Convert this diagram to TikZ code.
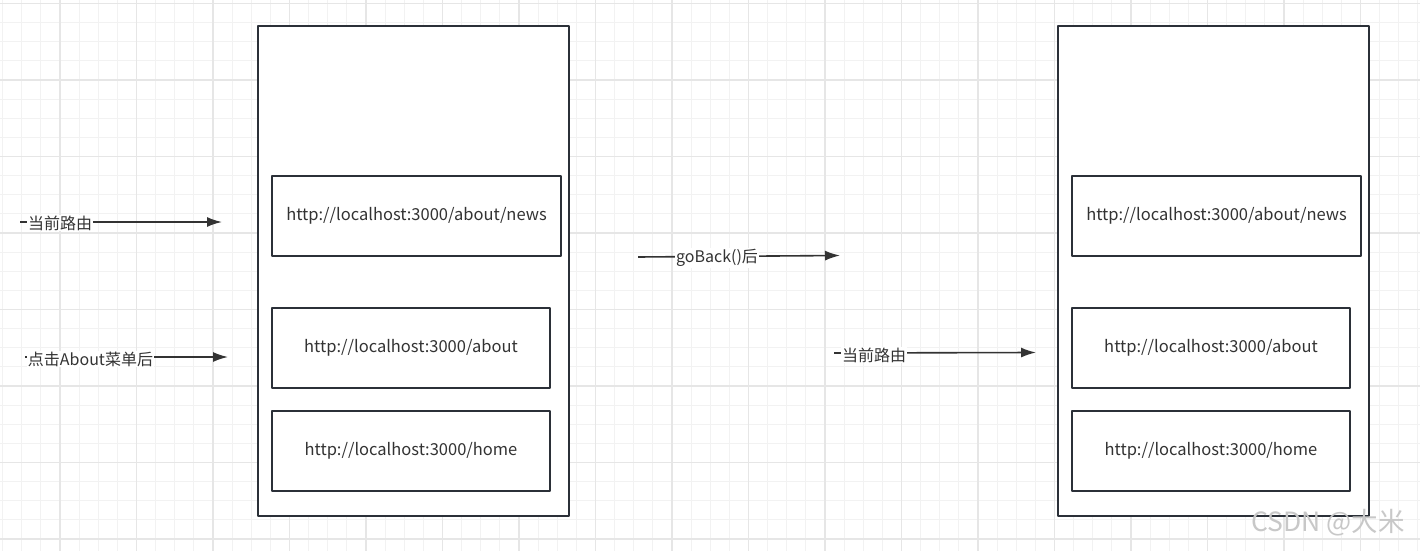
\documentclass[tikz,border=0pt]{standalone}
\usepackage{fontspec}
\setmainfont{Noto Sans CJK SC}
\usetikzlibrary{arrows.meta}
\definecolor{boxc}{HTML}{2B3038}
\definecolor{linec}{HTML}{333333}
\definecolor{txtc}{HTML}{333333}
\definecolor{minorc}{HTML}{F2F2F2}
\definecolor{majorc}{HTML}{E6E6E6}
\definecolor{markc}{HTML}{C8C8C8}
\begin{document}
\begin{tikzpicture}[x=1pt,y=-1pt,>={Latex[length=15pt,width=10pt]},line join=round,
	page/.style={draw=boxc,line width=1.6pt,minimum width=311pt,minimum height=490pt},
	url/.style={draw=boxc,line width=1.6pt,minimum height=80pt,text=txtc,font=\fontsize{16.5}{19}\selectfont},
	lab/.style={fill=white,inner sep=1pt,text=txtc,font=\fontsize{16}{18}\selectfont},
	arr/.style={->,draw=linec,line width=1.6pt}]
	\clip (0,0) rectangle (1420,551);
	\fill[white] (0,0) rectangle (1420,551);
	% grid
	\foreach \i in {0,...,74} \draw[minorc,line width=1.2pt] ({2.6+19.125*\i},0)--++(0,551);
	\foreach \i in {0,...,28} \draw[minorc,line width=1.2pt] (0,{3.5+19.125*\i})--++(1420,0);
	\foreach \i in {0,...,18} \draw[majorc,line width=1.4pt] ({60+76.5*\i},0)--++(0,551);
	\foreach \i in {0,...,7} \draw[majorc,line width=1.4pt] (0,{3.5+76.5*\i})--++(1420,0);
	% left stack
	\node[page,fill=white] (lpage) at (413.5,271) {};
	\node[url,minimum width=289pt] (lnews) at (416.5,216) {http://localhost:3000/about/news};
	\node[url,minimum width=278pt] (labout) at (411,348) {http://localhost:3000/about};
	\node[url,minimum width=278pt] (lhome) at (411,451) {http://localhost:3000/home};
	% right stack
	\node[page,fill=white] (rpage) at (1213.5,271) {};
	\node[url,minimum width=289pt] (rnews) at (1216.5,216) {http://localhost:3000/about/news};
	\node[url,minimum width=278pt] (rabout) at (1211,348) {http://localhost:3000/about};
	\node[url,minimum width=278pt] (rhome) at (1211,451) {http://localhost:3000/home};
	% arrows
	\coordinate (a1) at (20,222); \coordinate (b1) at (222,222);
	\coordinate (a2) at (25,357); \coordinate (b2) at (228,357);
	\coordinate (a3) at (638,257); \coordinate (b3) at (840,255.5);
	\coordinate (a4) at (834,353); \coordinate (b4) at (1036,352.5);
	\draw[arr] (a1)--(b1);
	\draw[arr] (a2)--(b2);
	\draw[arr] (a3)--(b3);
	\draw[arr] (a4)--(b4);
	\node[lab] (t1) at (60,223) {当前路由};
	\node[lab] (t2) at (90.5,359) {点击About菜单后};
	\node[lab] (t3) at (717,258) {goBack()后};
	\node[lab] (t4) at (874,355) {当前路由};
	% watermark
	\node[markc,font=\fontsize{26.5}{28}\selectfont] (mark) at (1328,523) {CSDN @大米};
\end{tikzpicture}
\end{document}
